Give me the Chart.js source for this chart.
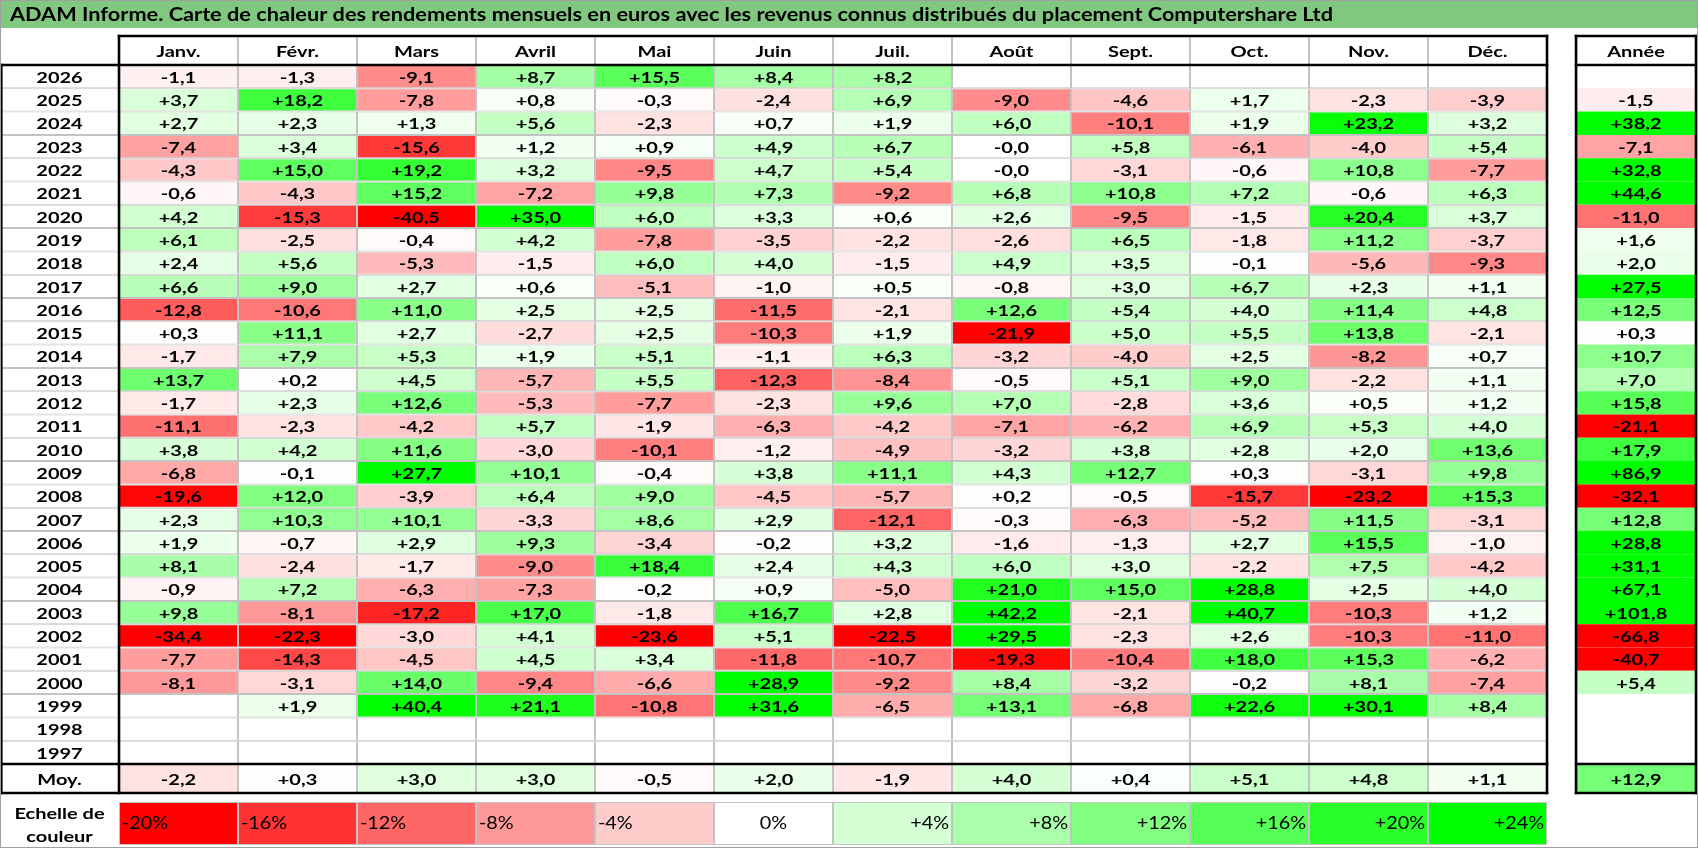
<!DOCTYPE html>
<html><head><meta charset="utf-8">
<script src="https://cdn.jsdelivr.net/npm/chart.js@4.4.1/dist/chart.umd.min.js"></script>
<style>html,body{margin:0;padding:0;background:#fff;overflow:hidden}canvas{display:block}</style>
</head><body>
<canvas id="c" width="1698" height="848" style="width:1698px;height:848px"></canvas>
<script>
const chartTitle = "ADAM Informe. Carte de chaleur des rendements mensuels en euros avec les revenus connus distribués du placement Computershare Ltd";
const months = ["Janv.","Févr.","Mars","Avril","Mai","Juin","Juil.","Août","Sept.","Oct.","Nov.","Déc."];
const annualHeader = "Année";
const averageLabel = "Moy.";
const scaleLabelLines = ["Echelle de","couleur"];
const years = [2026,2025,2024,2023,2022,2021,2020,2019,2018,2017,2016,2015,2014,2013,2012,2011,2010,2009,2008,2007,2006,2005,2004,2003,2002,2001,2000,1999,1998,1997];

const y2026 = [-1.1, -1.3, -9.1, 8.7, 15.5, 8.4, 8.2, null, null, null, null, null];
const y2025 = [3.7, 18.2, -7.8, 0.8, -0.3, -2.4, 6.9, -9.0, -4.6, 1.7, -2.3, -3.9];
const y2024 = [2.7, 2.3, 1.3, 5.6, -2.3, 0.7, 1.9, 6.0, -10.1, 1.9, 23.2, 3.2];
const y2023 = [-7.4, 3.4, -15.6, 1.2, 0.9, 4.9, 6.7, -0.02, 5.8, -6.1, -4.0, 5.4];
const y2022 = [-4.3, 15.0, 19.2, 3.2, -9.5, 4.7, 5.4, -0.02, -3.1, -0.6, 10.8, -7.7];
const y2021 = [-0.6, -4.3, 15.2, -7.2, 9.8, 7.3, -9.2, 6.8, 10.8, 7.2, -0.6, 6.3];
const y2020 = [4.2, -15.3, -40.5, 35.0, 6.0, 3.3, 0.6, 2.6, -9.5, -1.5, 20.4, 3.7];
const y2019 = [6.1, -2.5, -0.4, 4.2, -7.8, -3.5, -2.2, -2.6, 6.5, -1.8, 11.2, -3.7];
const y2018 = [2.4, 5.6, -5.3, -1.5, 6.0, 4.0, -1.5, 4.9, 3.5, -0.1, -5.6, -9.3];
const y2017 = [6.6, 9.0, 2.7, 0.6, -5.1, -1.0, 0.5, -0.8, 3.0, 6.7, 2.3, 1.1];
const y2016 = [-12.8, -10.6, 11.0, 2.5, 2.5, -11.5, -2.1, 12.6, 5.4, 4.0, 11.4, 4.8];
const y2015 = [0.3, 11.1, 2.7, -2.7, 2.5, -10.3, 1.9, -21.9, 5.0, 5.5, 13.8, -2.1];
const y2014 = [-1.7, 7.9, 5.3, 1.9, 5.1, -1.1, 6.3, -3.2, -4.0, 2.5, -8.2, 0.7];
const y2013 = [13.7, 0.2, 4.5, -5.7, 5.5, -12.3, -8.4, -0.5, 5.1, 9.0, -2.2, 1.1];
const y2012 = [-1.7, 2.3, 12.6, -5.3, -7.7, -2.3, 9.6, 7.0, -2.8, 3.6, 0.5, 1.2];
const y2011 = [-11.1, -2.3, -4.2, 5.7, -1.9, -6.3, -4.2, -7.1, -6.2, 6.9, 5.3, 4.0];
const y2010 = [3.8, 4.2, 11.6, -3.0, -10.1, -1.2, -4.9, -3.2, 3.8, 2.8, 2.0, 13.6];
const y2009 = [-6.8, -0.1, 27.7, 10.1, -0.4, 3.8, 11.1, 4.3, 12.7, 0.3, -3.1, 9.8];
const y2008 = [-19.6, 12.0, -3.9, 6.4, 9.0, -4.5, -5.7, 0.2, -0.5, -15.7, -23.2, 15.3];
const y2007 = [2.3, 10.3, 10.1, -3.3, 8.6, 2.9, -12.1, -0.3, -6.3, -5.2, 11.5, -3.1];
const y2006 = [1.9, -0.7, 2.9, 9.3, -3.4, -0.2, 3.2, -1.6, -1.3, 2.7, 15.5, -1.0];
const y2005 = [8.1, -2.4, -1.7, -9.0, 18.4, 2.4, 4.3, 6.0, 3.0, -2.2, 7.5, -4.2];
const y2004 = [-0.9, 7.2, -6.3, -7.3, -0.2, 0.9, -5.0, 21.0, 15.0, 28.8, 2.5, 4.0];
const y2003 = [9.8, -8.1, -17.2, 17.0, -1.8, 16.7, 2.8, 42.2, -2.1, 40.7, -10.3, 1.2];
const y2002 = [-34.4, -22.3, -3.0, 4.1, -23.6, 5.1, -22.5, 29.5, -2.3, 2.6, -10.3, -11.0];
const y2001 = [-7.7, -14.3, -4.5, 4.5, 3.4, -11.8, -10.7, -19.3, -10.4, 18.0, 15.3, -6.2];
const y2000 = [-8.1, -3.1, 14.0, -9.4, -6.6, 28.9, -9.2, 8.4, -3.2, -0.2, 8.1, -7.4];
const y1999 = [null, 1.9, 40.4, 21.1, -10.8, 31.6, -6.5, 13.1, -6.8, 22.6, 30.1, 8.4];
const y1998 = [null, null, null, null, null, null, null, null, null, null, null, null];
const y1997 = [null, null, null, null, null, null, null, null, null, null, null, null];

const monthlyRows = [y2026,y2025,y2024,y2023,y2022,y2021,y2020,y2019,y2018,y2017,y2016,y2015,y2014,y2013,y2012,y2011,y2010,y2009,y2008,y2007,y2006,y2005,y2004,y2003,y2002,y2001,y2000,y1999,y1998,y1997];

const annualValues = [null, -1.5, 38.2, -7.1, 32.8, 44.6, -11.0, 1.6, 2.0, 27.5, 12.5, 0.3, 10.7, 7.0, 15.8, -21.1, 17.9, 86.9, -32.1, 12.8, 28.8, 31.1, 67.1, 101.8, -66.8, -40.7, 5.4, null, null, null];
const monthlyAverage = [-2.2, 0.3, 3.0, 3.0, -0.5, 2.0, -1.9, 4.0, 0.4, 5.1, 4.8, 1.1];
const annualAverage = 12.9;
const scaleSteps = [-20, -16, -12, -8, -4, 0, 4, 8, 12, 16, 20, 24];

// ---------- layout (in scale units) ----------
const W = 1698, H = 848;
const HEADER_U = 1.245, MOY_U = 1.245, GAP_U = 0.386, SCALE_U = 1.845;
const ANNEE_X0 = 12.244, ANNEE_X1 = 13.252;
const NROWS = years.length;
const Y_MIN = -HEADER_U;
const Y_MAX = NROWS + MOY_U + GAP_U + SCALE_U;
const PAD = {left: 0, right: W - 1696, top: 36, bottom: H - 845};
const unitPx = (H - PAD.top - PAD.bottom) / (Y_MAX - Y_MIN);
const MOY_C = NROWS + MOY_U / 2;
const SCALE_C = NROWS + MOY_U + GAP_U + SCALE_U / 2;

const GRID = '#c3c3c3';
const FONT = 'Lato, "Open Sans", sans-serif';
const SX = 1.25;

function heat(v) {
  if (v === null || v === undefined) return '#ffffff';
  if (v >= 0) {
    const t = Math.min(v / 24, 1);
    const c = Math.round(255 * (1 - t));
    return `rgb(${c},255,${c})`;
  }
  const t = Math.min(-v / 20, 1);
  const c = Math.round(255 * (1 - t));
  return `rgb(255,${c},${c})`;
}
function fmt(v) {
  if (v === null || v === undefined) return '';
  const s = v.toFixed(1).replace('.', ',');
  return s[0] === '-' ? s : '+' + s;
}
function pct(v) { return (v > 0 ? '+' : '') + v + '%'; }

// ---------- datasets ----------
const labelCells = years.map((yr, i) => ({x: [-1, 0], y: i + 0.5, t: String(yr)}));
const headerCells = months.map((m, j) => ({x: [j, j + 1], y: -HEADER_U / 2, t: m}));
const monthCells = [];
monthlyRows.forEach((row, i) => row.forEach((v, j) => monthCells.push({x: [j, j + 1], y: i + 0.5, v})));
const annualCells = annualValues.map((v, i) => ({x: [ANNEE_X0, ANNEE_X1], y: i + 0.5, v}));
const avgCells = monthlyAverage.map((v, j) => ({x: [j, j + 1], y: MOY_C, v}));
const avgAnnualCell = [{x: [ANNEE_X0, ANNEE_X1], y: MOY_C, v: annualAverage}];
const scaleCells = scaleSteps.map((v, j) => ({x: [j, j + 1], y: SCALE_C, v, s: true}));

const base = {borderSkipped: false, grouped: false, barPercentage: 1, categoryPercentage: 1, inflateAmount: 0};
const bg = (ctx) => heat(ctx.raw ? ctx.raw.v : null);

const datasets = [
  Object.assign({data: labelCells, backgroundColor: '#fff', borderColor: GRID, borderWidth: 1, barThickness: unitPx}, base),
  Object.assign({data: headerCells, backgroundColor: '#fff', borderColor: GRID, borderWidth: 1, barThickness: HEADER_U * unitPx}, base),
  Object.assign({data: monthCells, backgroundColor: bg, borderColor: GRID, borderWidth: 1, barThickness: unitPx}, base),
  Object.assign({data: annualCells, backgroundColor: bg, borderWidth: 0, barThickness: unitPx}, base),
  Object.assign({data: avgCells, backgroundColor: bg, borderColor: GRID, borderWidth: 1, barThickness: MOY_U * unitPx}, base),
  Object.assign({data: avgAnnualCell, backgroundColor: bg, borderWidth: 0, barThickness: MOY_U * unitPx}, base),
  Object.assign({data: scaleCells, backgroundColor: bg, borderColor: GRID, borderWidth: 1, barThickness: SCALE_U * unitPx}, base)
];

function txt(ctx, s, x, y, font, align, sx) {
  ctx.save();
  ctx.translate(x, y);
  ctx.scale(sx, 1);
  ctx.font = font;
  ctx.textAlign = align;
  ctx.textBaseline = 'middle';
  ctx.fillStyle = '#000';
  ctx.fillText(s, 0, 0);
  ctx.restore();
}

const tablePlugin = {
  id: 'tableDeco',
  beforeDraw(chart) {
    const ctx = chart.ctx;
    ctx.save();
    ctx.fillStyle = '#fff';
    ctx.fillRect(0, 0, W, H);
    ctx.fillStyle = '#80c880';
    ctx.fillRect(0, 0, W, 28);
    ctx.restore();
    const f = 'bold 18px ' + FONT;
    ctx.save(); ctx.font = f; const w = ctx.measureText(chartTitle).width; ctx.restore();
    txt(chart.ctx, chartTitle, 10, 15, f, 'left', 1323 / w);
  },
  afterDatasetsDraw(chart) {
    const ctx = chart.ctx;
    const xs = chart.scales.x, ys = chart.scales.y;
    const bold = 'bold 16px ' + FONT;
    const center = (el) => { const p = el.getProps(['x', 'y', 'base'], true); return {cx: (p.x + p.base) / 2, cy: p.y, l: Math.min(p.x, p.base), r: Math.max(p.x, p.base)}; };

    // labels & values
    chart.getDatasetMeta(0).data.forEach((el, i) => { const c = center(el); txt(ctx, labelCells[i].t, c.cx, c.cy + 1, bold, 'center', SX); });
    chart.getDatasetMeta(1).data.forEach((el, i) => { const c = center(el); txt(ctx, headerCells[i].t, c.cx, c.cy + 1, bold, 'center', SX); });
    [2, 3, 4, 5].forEach(k => {
      const d = chart.data.datasets[k].data;
      chart.getDatasetMeta(k).data.forEach((el, i) => { const c = center(el); txt(ctx, fmt(d[i].v), c.cx, c.cy + 1, bold, 'center', SX); });
    });
    chart.getDatasetMeta(6).data.forEach((el, i) => {
      const c = center(el); const v = scaleCells[i].v; const f = '16.5px ' + FONT;
      if (v < 0) txt(ctx, pct(v), c.l + 3, c.cy, f, 'left', 1.2);
      else if (v === 0) txt(ctx, pct(v), c.cx, c.cy, f, 'center', 1.2);
      else txt(ctx, pct(v), c.r - 3, c.cy, f, 'right', 1.2);
    });

    const xl = xs.getPixelForValue(-1), x0 = xs.getPixelForValue(0), x12 = xs.getPixelForValue(12);
    const xa0 = xs.getPixelForValue(ANNEE_X0), xa1 = xs.getPixelForValue(ANNEE_X1);
    const yT = ys.getPixelForValue(-HEADER_U), y0 = ys.getPixelForValue(0), yN = ys.getPixelForValue(NROWS), yM = ys.getPixelForValue(NROWS + MOY_U);
    const xlc = (xl + x0) / 2;
    txt(ctx, annualHeader, (xa0 + xa1) / 2, (yT + y0) / 2 + 1, bold, 'center', SX);
    txt(ctx, averageLabel, xlc, (yN + yM) / 2 + 1, bold, 'center', SX);
    const ys0 = ys.getPixelForValue(NROWS + MOY_U + GAP_U), ys1 = ys.getPixelForValue(Y_MAX);
    txt(ctx, scaleLabelLines[0], xlc, ys0 + (ys1 - ys0) * 0.27, bold, 'center', SX);
    txt(ctx, scaleLabelLines[1], xlc, ys0 + (ys1 - ys0) * 0.8, bold, 'center', SX);

    // thick lines
    ctx.save();
    ctx.strokeStyle = '#000';
    ctx.lineWidth = 2.6;
    ctx.lineCap = 'square';
    const seg = (a, b, c, d) => { ctx.beginPath(); ctx.moveTo(a, b); ctx.lineTo(c, d); ctx.stroke(); };
    seg(x0, yT, x12, yT);
    [y0, yN, yM].forEach(yy => seg(xl + 1.3, yy, x12, yy));
    [yT, y0, yN, yM].forEach(yy => seg(xa0, yy, xa1, yy));
    seg(xl + 1.3, y0, xl + 1.3, yM);
    seg(x0, yT, x0, yM);
    seg(x12, yT, x12, yM);
    seg(xa0, yT, xa0, yM);
    seg(xa1, yT, xa1, yM);
    ctx.restore();

    ctx.save();
    ctx.strokeStyle = '#a0a0a0';
    ctx.lineWidth = 1;
    ctx.strokeRect(0.5, 0.5, W - 1, H - 1);
    ctx.restore();
  }
};

new Chart(document.getElementById('c'), {
  type: 'bar',
  data: {datasets},
  options: {
    indexAxis: 'y',
    responsive: false,
    animation: false,
    events: [],
    layout: {padding: PAD},
    scales: {
      x: {type: 'linear', min: -1, max: ANNEE_X1, offset: false, display: false},
      y: {type: 'linear', min: Y_MIN, max: Y_MAX, reverse: true, offset: false, display: false}
    },
    plugins: {legend: {display: false}, tooltip: {enabled: false}, title: {display: false}}
  },
  plugins: [tablePlugin]
});
</script>
</body></html>
